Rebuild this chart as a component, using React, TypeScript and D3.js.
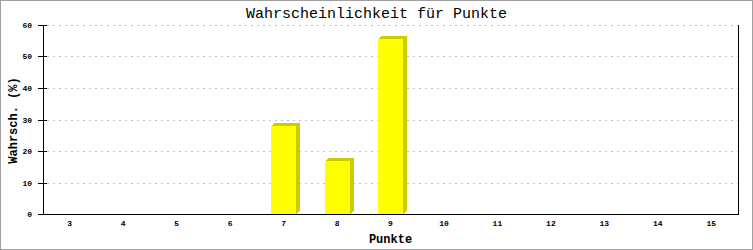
import React from "react";
import * as d3 from "d3";

const categories = ["3", "4", "5", "6", "7", "8", "9", "10", "11", "12", "13", "14", "15"];
const values = [0, 0, 0, 0, 27.78, 16.67, 55.56, 0, 0, 0, 0, 0, 0];
const yTicks = [0, 10, 20, 30, 40, 50, 60];
const title = "Wahrscheinlichkeit für Punkte";
const xTitle = "Punkte";
const yTitle = "Wahrsch. (%)";

const W = 753;
const H = 250;
const left = 43;
const right = 738;
const top = 25;
const bottom = 214;
const dx = 4;
const dy = 3;
const mono = "'Liberation Mono', 'DejaVu Sans Mono', monospace";

export default function App() {
  const x = d3.scaleBand<string>().domain(categories).range([left, right]).padding(0);
  const y = d3.scaleLinear().domain([0, 60]).range([bottom, top]);
  const barW = 25;

  return (
    <div style={{ position: "fixed", left: 0, top: 0 }}>
      <svg width={W} height={H} style={{ display: "block" }}>
        <rect x={0} y={0} width={W} height={H} fill="#ffffff" />
        <rect x={0.5} y={0.5} width={W - 1} height={H - 1} fill="none" stroke="#a0a0a0" />
        <text x={W / 2} y={18} textAnchor="middle" fontFamily={mono} fontSize={15} fill="#000">
          {title}
        </text>
        {/* gridlines */}
        {yTicks.filter((t) => t > 0).map((t) => (
          <line
            key={"g" + t}
            x1={left + 4}
            x2={right}
            y1={Math.round(y(t)) + 0.5}
            y2={Math.round(y(t)) + 0.5}
            stroke="#c0c0c0"
            strokeDasharray="2,4"
          />
        ))}
        {/* bars */}
        {values.map((v, i) => {
          if (v <= 0) return null;
          const cx = (x(categories[i]) as number) + x.bandwidth() / 2;
          const x0 = Math.round(cx - barW / 2);
          const y0 = Math.round(y(v));
          const yb = bottom;
          return (
            <g key={"b" + i} shapeRendering="crispEdges">
              <polygon
                points={`${x0},${y0} ${x0 + dx},${y0 - dy} ${x0 + barW + dx},${y0 - dy} ${x0 + barW},${y0}`}
                fill="#cccc00"
              />
              <polygon
                points={`${x0 + barW},${y0} ${x0 + barW + dx},${y0 - dy} ${x0 + barW + dx},${yb - dy} ${x0 + barW},${yb}`}
                fill="#cccc00"
              />
              <rect x={x0} y={y0} width={barW} height={yb - y0} fill="#ffff00" />
            </g>
          );
        })}
        {/* axes */}
        <line x1={left + 0.5} x2={left + 0.5} y1={top} y2={bottom} stroke="#000" />
        <line x1={right + 0.5} x2={right + 0.5} y1={top} y2={bottom + 0.5} stroke="#000" />
        <line x1={left - 5} x2={right + 1} y1={bottom + 0.5} y2={bottom + 0.5} stroke="#000" />
        {yTicks.map((t) => (
          <g key={"t" + t}>
            <line
              x1={left - 5}
              x2={left + 4}
              y1={Math.round(y(t)) + 0.5}
              y2={Math.round(y(t)) + 0.5}
              stroke="#000"
            />
            <text
              x={32}
              y={Math.round(y(t)) + 3}
              textAnchor="end"
              fontFamily={mono}
              fontSize={8}
              fontWeight="bold"
              fill="#000"
            >
              {t}
            </text>
          </g>
        ))}
        {categories.map((c) => (
          <text
            key={"x" + c}
            x={(x(c) as number) + x.bandwidth() / 2}
            y={226}
            textAnchor="middle"
            fontFamily={mono}
            fontSize={8}
            fontWeight="bold"
            fill="#000"
          >
            {c}
          </text>
        ))}
        <text
          x={(left + right) / 2}
          y={243}
          textAnchor="middle"
          fontFamily={mono}
          fontSize={12}
          fontWeight="bold"
          fill="#000"
        >
          {xTitle}
        </text>
        <text
          transform={`translate(16.5, ${(top + bottom) / 2 + 1}) rotate(-90)`}
          textAnchor="middle"
          fontFamily={mono}
          fontSize={12}
          fontWeight="bold"
          fill="#000"
        >
          {yTitle}
        </text>
      </svg>
    </div>
  );
}
